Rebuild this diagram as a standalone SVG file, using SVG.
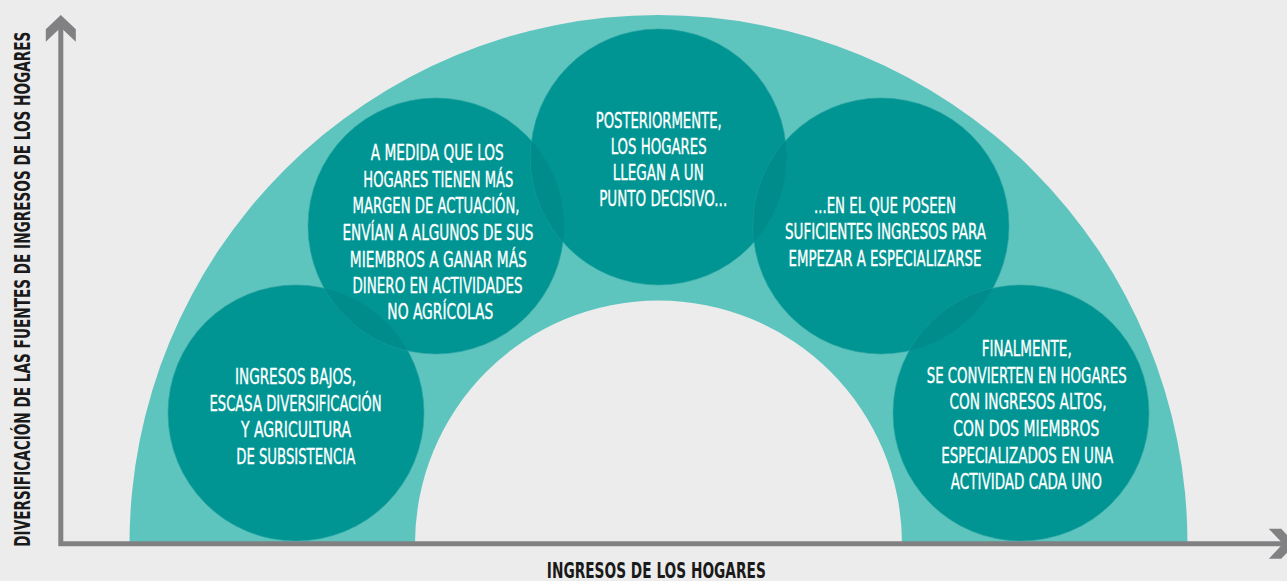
<svg xmlns="http://www.w3.org/2000/svg" width="1287" height="581" viewBox="0 0 1287 581">
<style>
.bg{fill:#ececec}
.arch{fill:#5ec4be}
.circ{fill:#009593;stroke:#2aa4a1;stroke-width:0.6}
.ov{fill:#008c8a}
.ct{font-family:"DejaVu Sans Condensed","Liberation Sans Narrow","Roboto Condensed","Liberation Sans",sans-serif;font-stretch:condensed;font-size:22px;fill:#ffffff;text-anchor:middle;stroke:#ffffff;stroke-width:0.35}
.ax{fill:none;stroke:#818184;stroke-width:5}
.ah{fill:#818184}
.al{font-family:"DejaVu Sans Condensed","Liberation Sans Narrow","Roboto Condensed","Liberation Sans",sans-serif;font-stretch:condensed;font-weight:bold;font-size:22px;fill:#1a1a1a;text-anchor:middle}
</style>
<defs>
<clipPath id="k1"><circle cx="296" cy="413" r="128"/></clipPath>
<clipPath id="k2"><circle cx="436" cy="226" r="128"/></clipPath>
<clipPath id="k3"><circle cx="658.5" cy="157" r="128"/></clipPath>
<clipPath id="k4"><circle cx="881" cy="226" r="128"/></clipPath>
</defs>
<rect class="bg" x="0" y="0" width="1287" height="581"/>
<path id="arch" class="arch" d="M129.5 544 A529 529 0 0 1 1187.5 544 L902 544 A243.5 243.5 0 0 0 415 544 Z"/>

<g id="node1">
<circle class="circ" cx="296" cy="413" r="128"/>
<text class="ct" x="295.5" y="384" textLength="121" lengthAdjust="spacingAndGlyphs">INGRESOS BAJOS,</text>
<text class="ct" x="295.5" y="410.7" textLength="172" lengthAdjust="spacingAndGlyphs">ESCASA DIVERSIFICACIÓN</text>
<text class="ct" x="296" y="437.4" textLength="110" lengthAdjust="spacingAndGlyphs">Y AGRICULTURA</text>
<text class="ct" x="295.7" y="464.1" textLength="119" lengthAdjust="spacingAndGlyphs">DE SUBSISTENCIA</text>
</g>

<g id="node2">
<circle class="circ" cx="436" cy="226" r="128"/>
<circle class="ov" cx="436" cy="226" r="128" clip-path="url(#k1)"/>
<text class="ct" x="437.3" y="160" textLength="133" lengthAdjust="spacingAndGlyphs">A MEDIDA QUE LOS</text>
<text class="ct" x="438.3" y="186.7" textLength="150" lengthAdjust="spacingAndGlyphs">HOGARES TIENEN MÁS</text>
<text class="ct" x="436" y="213" textLength="167" lengthAdjust="spacingAndGlyphs">MARGEN DE ACTUACIÓN,</text>
<text class="ct" x="438" y="240" textLength="191" lengthAdjust="spacingAndGlyphs">ENVÍAN A ALGUNOS DE SUS</text>
<text class="ct" x="438.3" y="266.7" textLength="177" lengthAdjust="spacingAndGlyphs">MIEMBROS A GANAR MÁS</text>
<text class="ct" x="437.5" y="293.3" textLength="170" lengthAdjust="spacingAndGlyphs">DINERO EN ACTIVIDADES</text>
<text class="ct" x="440.3" y="318.5" textLength="106" lengthAdjust="spacingAndGlyphs">NO AGRÍCOLAS</text>
</g>

<g id="node3">
<circle class="circ" cx="658.5" cy="157" r="128"/>
<circle class="ov" cx="658.5" cy="157" r="128" clip-path="url(#k2)"/>
<text class="ct" x="658.7" y="128" textLength="126" lengthAdjust="spacingAndGlyphs">POSTERIORMENTE,</text>
<text class="ct" x="658.7" y="154" textLength="96" lengthAdjust="spacingAndGlyphs">LOS HOGARES</text>
<text class="ct" x="658.3" y="180" textLength="91" lengthAdjust="spacingAndGlyphs">LLEGAN A UN</text>
<text class="ct" x="663.2" y="206" textLength="128" lengthAdjust="spacingAndGlyphs">PUNTO DECISIVO...</text>
</g>

<g id="node4">
<circle class="circ" cx="881" cy="226" r="128"/>
<circle class="ov" cx="881" cy="226" r="128" clip-path="url(#k3)"/>
<text class="ct" x="885" y="212.7" textLength="142" lengthAdjust="spacingAndGlyphs">...EN EL QUE POSEEN</text>
<text class="ct" x="885.5" y="239.3" textLength="201" lengthAdjust="spacingAndGlyphs">SUFICIENTES INGRESOS PARA</text>
<text class="ct" x="885" y="266" textLength="193" lengthAdjust="spacingAndGlyphs">EMPEZAR A ESPECIALIZARSE</text>
</g>

<g id="node5">
<circle class="circ" cx="1021" cy="413" r="128"/>
<circle class="ov" cx="1021" cy="413" r="128" clip-path="url(#k4)"/>
<text class="ct" x="1026.7" y="356" textLength="90" lengthAdjust="spacingAndGlyphs">FINALMENTE,</text>
<text class="ct" x="1026.7" y="382.7" textLength="200" lengthAdjust="spacingAndGlyphs">SE CONVIERTEN EN HOGARES</text>
<text class="ct" x="1028" y="409.3" textLength="157" lengthAdjust="spacingAndGlyphs">CON INGRESOS ALTOS,</text>
<text class="ct" x="1026.3" y="436" textLength="146" lengthAdjust="spacingAndGlyphs">CON DOS MIEMBROS</text>
<text class="ct" x="1027.2" y="462.7" textLength="172" lengthAdjust="spacingAndGlyphs">ESPECIALIZADOS EN UNA</text>
<text class="ct" x="1026.3" y="489.3" textLength="151" lengthAdjust="spacingAndGlyphs">ACTIVIDAD CADA UNO</text>
</g>

<g id="connectors">
<path class="ax" d="M60.8 25 V543.8 H1284"/>
<polygon class="ah" points="60.8,15 75.8,29.3 75.8,41.7 60.8,27.5 45.8,41.7 45.8,29.3"/>
<polygon class="ah" points="1295.5,543.8 1281.2,528.8 1268.8,528.8 1283,543.8 1268.8,558.8 1281.2,558.8"/>
</g>

<g id="labels">
<text class="al" x="656.3" y="578" textLength="219" lengthAdjust="spacingAndGlyphs">INGRESOS DE LOS HOGARES</text>
<text class="al" transform="translate(29.5 289.2) rotate(-90)" x="0" y="0" textLength="515" lengthAdjust="spacingAndGlyphs">DIVERSIFICACIÓN DE LAS FUENTES DE INGRESOS DE LOS HOGARES</text>
</g>
</svg>
